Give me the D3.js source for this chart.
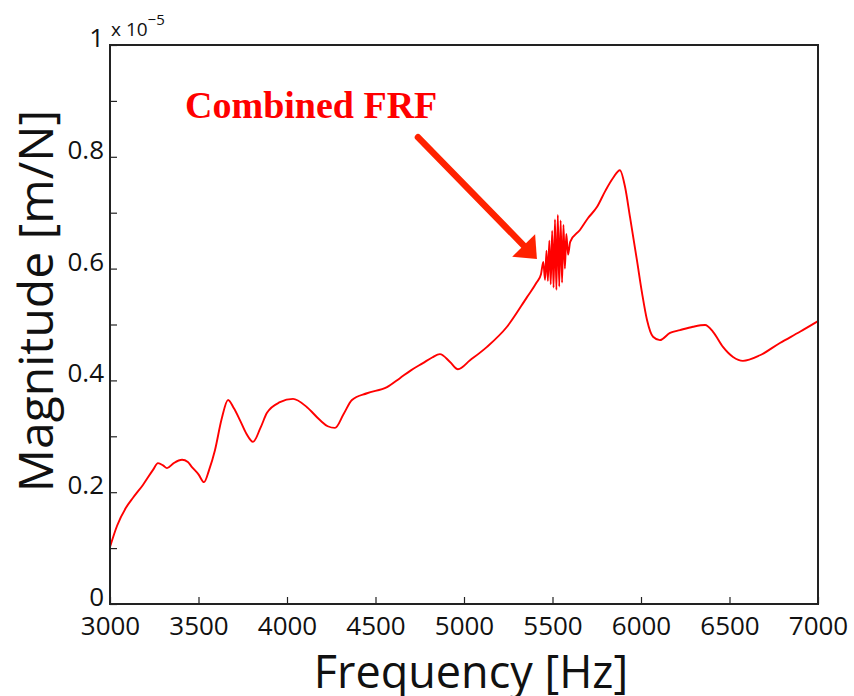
<!DOCTYPE html>
<html>
<head>
<meta charset="utf-8">
<script src="https://cdn.jsdelivr.net/npm/d3@7"></script>
<style>
  body { margin: 0; background: #fff; }
  text { font-family: "Open Sans", sans-serif; }
</style>
</head>
<body>
<div id="wrapper"></div>
<script>
// frequency [Hz] and magnitude [x 1e-5 m/N]
const freqs = [
  3000, 3040, 3090, 3130, 3186, 3243, 3271, 3300, 3322, 3360, 3407, 3440, 3463, 3500, 3531,
  3560, 3593, 3630, 3667, 3700, 3734, 3770, 3808, 3850, 3887, 3960, 4034, 4113, 4186, 4230,
  4271, 4320, 4367, 4452, 4565, 4638, 4700, 4768, 4820, 4864, 4921, 4966, 5034, 5130, 5243,
  5356, 5410, 5435, 5448, 5458, 5466, 5474, 5482, 5490, 5498, 5506, 5514, 5522, 5530, 5538,
  5546, 5554, 5562, 5570, 5578, 5588, 5600, 5655, 5700, 5751, 5800, 5842, 5881, 5910, 5938,
  5977, 6006, 6034, 6068, 6107, 6164, 6220, 6294, 6362, 6407, 6463, 6520, 6576, 6672, 6785,
  6898, 7000
]
const magnitudes = [
  0.102, 0.140, 0.172, 0.190, 0.213, 0.240, 0.252, 0.248, 0.243, 0.252, 0.258, 0.254, 0.245, 0.232, 0.218,
  0.240, 0.275, 0.330, 0.365, 0.350, 0.329, 0.305, 0.290, 0.315, 0.342, 0.361, 0.367, 0.352, 0.329, 0.318,
  0.315, 0.340, 0.365, 0.377, 0.388, 0.404, 0.418, 0.431, 0.441, 0.447, 0.433, 0.420, 0.436, 0.460, 0.496,
  0.549, 0.575, 0.590, 0.612, 0.580, 0.632, 0.578, 0.650, 0.572, 0.668, 0.566, 0.688, 0.562, 0.696, 0.568,
  0.686, 0.575, 0.678, 0.600, 0.662, 0.625, 0.648, 0.669, 0.690, 0.710, 0.740, 0.762, 0.776, 0.746, 0.692,
  0.615, 0.556, 0.508, 0.478, 0.472, 0.485, 0.490, 0.496, 0.499, 0.487, 0.460, 0.442, 0.435, 0.445, 0.467,
  0.487, 0.506
]
const xTicks = [3000, 3500, 4000, 4500, 5000, 5500, 6000, 6500, 7000]
const yTicks = [0, 0.1, 0.2, 0.3, 0.4, 0.5, 0.6, 0.7, 0.8, 0.9, 1]
const yLabelled = [0, 0.2, 0.4, 0.6, 0.8, 1]

// annotation in data units: text anchor, arrow start, arrow tip
const noteText = "Combined FRF"
const noteAt = [3424, 0.869]
const arrowFrom = [4740, 0.835]
const arrowTo = [5412, 0.617]

const dataset = freqs.map((f, i) => ({ f, m: magnitudes[i] }))

const dimensions = {
  width: 854,
  height: 696,
  margin: { top: 45, right: 36, bottom: 92, left: 110 },
}
dimensions.boundedWidth = dimensions.width - dimensions.margin.left - dimensions.margin.right
dimensions.boundedHeight = dimensions.height - dimensions.margin.top - dimensions.margin.bottom

const wrapper = d3.select("#wrapper")
  .append("svg")
  .attr("width", dimensions.width)
  .attr("height", dimensions.height)

const bounds = wrapper.append("g")
  .attr("transform", `translate(${dimensions.margin.left},${dimensions.margin.top})`)

const xScale = d3.scaleLinear()
  .domain([3000, 7000])
  .range([0, dimensions.boundedWidth])

const yScale = d3.scaleLinear()
  .domain([0, 1])
  .range([dimensions.boundedHeight, 0])

// curve
const lineGenerator = d3.line()
  .x(d => xScale(d.f))
  .y(d => yScale(d.m))
  .curve(d3.curveMonotoneX)

bounds.append("path")
  .datum(dataset)
  .attr("d", lineGenerator)
  .attr("fill", "none")
  .attr("stroke", "#ff0000")
  .attr("stroke-width", 1.9)
  .attr("stroke-linejoin", "round")

// axes: ticks point inward, only bottom and left
const xAxis = bounds.append("g")
  .attr("transform", `translate(0,${dimensions.boundedHeight})`)
  .call(d3.axisBottom(xScale).tickValues(xTicks).tickSize(-7).tickPadding(13).tickFormat(d3.format("d")))
xAxis.select(".domain").remove()
xAxis.selectAll("line").attr("stroke", "#222").attr("stroke-width", 1.2)
xAxis.selectAll("text")
  .attr("font-size", 26)
  .attr("fill", "#111")
  .style("font-family", "'Open Sans', sans-serif")

const yAxis = bounds.append("g")
  .call(d3.axisLeft(yScale).tickValues(yTicks).tickSize(-7).tickPadding(6)
    .tickFormat(d => yLabelled.some(v => Math.abs(v - d) < 1e-9) ? d3.format("~g")(d) : ""))
yAxis.select(".domain").remove()
yAxis.selectAll("line").attr("stroke", "#222").attr("stroke-width", 1.2)
yAxis.selectAll("text")
  .attr("font-size", 26)
  .attr("fill", "#111")
  .attr("dy", "0.06em")
  .style("font-family", "'Open Sans', sans-serif")

// frame
bounds.append("rect")
  .attr("width", dimensions.boundedWidth)
  .attr("height", dimensions.boundedHeight)
  .attr("fill", "none")
  .attr("stroke", "#222")
  .attr("stroke-width", 2)

// multiplier
const mult = bounds.append("text")
  .attr("x", 1)
  .attr("y", -9)
  .attr("font-size", 19)
  .attr("fill", "#111")
mult.append("tspan").text("x 10")
mult.append("tspan").attr("dy", -11).attr("font-size", 15).text("\u22125")

// axis labels
wrapper.append("text")
  .attr("x", dimensions.margin.left + dimensions.boundedWidth / 2 + 7)
  .attr("y", 688)
  .attr("text-anchor", "middle")
  .attr("font-size", 45)
  .attr("fill", "#111")
  .text("Frequency [Hz]")

wrapper.append("text")
  .attr("transform", "translate(53,301) rotate(-90)")
  .attr("text-anchor", "middle")
  .attr("font-size", 48)
  .attr("fill", "#111")
  .text("Magnitude [m/N]")

// annotation
bounds.append("text")
  .attr("x", xScale(noteAt[0]))
  .attr("y", yScale(noteAt[1]))
  .attr("font-size", 38)
  .attr("font-weight", "bold")
  .attr("fill", "#ff0000")
  .style("font-family", "'Liberation Serif', 'Times New Roman', serif")
  .text(noteText)

const ax0 = xScale(arrowFrom[0]), ay0 = yScale(arrowFrom[1])
const ax1 = xScale(arrowTo[0]), ay1 = yScale(arrowTo[1])
const len = Math.hypot(ax1 - ax0, ay1 - ay0)
const ux = (ax1 - ax0) / len, uy = (ay1 - ay0) / len
const headLen = 19, headHalf = 16
const bx = ax1 - ux * headLen, by = ay1 - uy * headLen

bounds.append("line")
  .attr("x1", ax0).attr("y1", ay0)
  .attr("x2", bx + ux * 2).attr("y2", by + uy * 2)
  .attr("stroke", "#ff2200")
  .attr("stroke-width", 6.5)
  .attr("stroke-linecap", "round")

bounds.append("path")
  .attr("d", `M${ax1},${ay1}L${bx - uy * headHalf},${by + ux * headHalf}L${bx + uy * headHalf},${by - ux * headHalf}Z`)
  .attr("fill", "#ff2200")
</script>
</body>
</html>
